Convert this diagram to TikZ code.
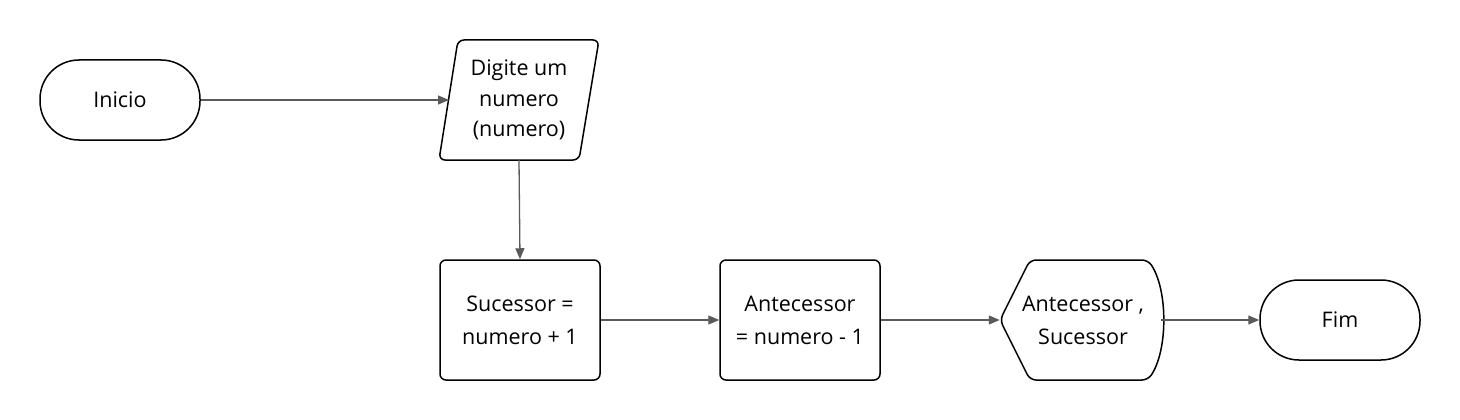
\documentclass[tikz,border=0pt]{standalone}
\usepackage{fontspec}
\setmainfont{Open Sans}
\usetikzlibrary{arrows.meta}
\definecolor{linegray}{HTML}{5A5A5A}
\begin{document}
\begin{tikzpicture}[x=1pt,y=-1pt,
  txt/.style={align=center, font=\fontsize{21.5}{33}\selectfont},
  outline/.style={draw=black, line width=1.5pt, rounded corners=6pt},
  term/.style={txt, draw=black, line width=1.5pt, rounded corners=39pt, minimum width=160pt, minimum height=80pt},
  procbox/.style={txt, outline, minimum width=160pt, minimum height=120pt},
  hidden/.style={txt, inner sep=0pt},
  conn/.style={draw=linegray, line width=1.3pt, -{Triangle[length=11pt,width=9pt]}}
]
\useasboundingbox (0,0) rectangle (1460,420);
\node[term] (inicio) at (120,100) {Inicio};
% parallelogram input
\draw[outline] (458,40) -- (599,40) -- (579,160) -- (439,160) -- cycle;
\node[hidden, minimum width=140pt, minimum height=120pt, font=\fontsize{21.5}{30.5}\selectfont] (ler) at (519,100) {Digite um\\numero\\(numero)};
\node[procbox] (suc) at (520,320) {Sucessor =\\numero + 1};
\node[procbox] (ant) at (800,320) {Antecessor\\= numero - 1};
% display shape
\draw[outline] (1030,260) -- (1000,320) -- (1030,380) -- (1148,380) .. controls (1168,350) and (1168,290) .. (1148,260) -- cycle;
\node[hidden, minimum width=161pt, minimum height=120pt] (disp) at (1080.5,320) {\hspace*{5pt}Antecessor ,\\\hspace*{5pt}Sucessor};
\node[term] (fim) at (1340,320) {Fim};
\draw[conn] (inicio.east) -- (449,100);
\draw[conn] (ler.south) -- (suc.north);
\draw[conn] (suc.east) -- (ant.west);
\draw[conn] (ant.east) -- (disp.west);
\draw[conn] (disp.east) -- (fim.west);
\end{tikzpicture}
\end{document}
